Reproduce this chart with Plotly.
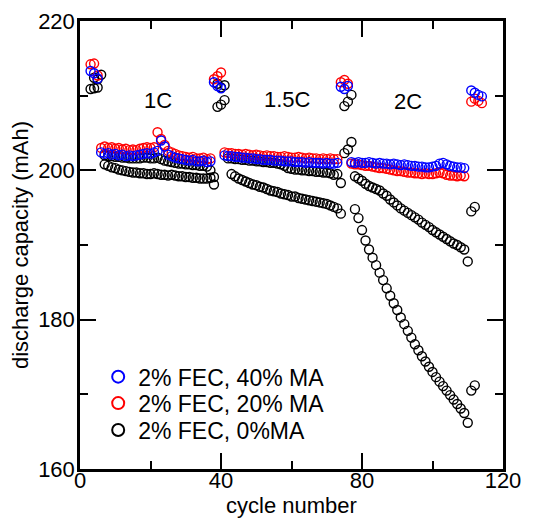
import plotly.graph_objects as go

# Rate-capability cycling: discharge capacity (mAh) per cycle.
# Each series is stored as segments: first cycle of the segment + its values.

# 2% FEC, 40% MA
ma40_start = [3, 6, 38, 41, 74, 77, 111]
ma40_vals = [
    [213.3, 213.0, 212.3],
    [202.4, 202.2, 202.3, 202.1, 202.2, 202.0, 202.1, 201.9, 202.0, 201.9,
     202.0, 202.1, 202.2, 202.3, 202.2, 202.4, 202.6, 204.0, 203.2, 202.1,
     201.9, 201.7, 201.6, 201.5, 201.4, 201.3, 201.4, 201.2, 201.2, 201.3,
     201.1, 201.2],
    [211.8, 211.3, 211.0],
    [202.0, 201.9, 201.9, 201.8, 201.8, 201.7, 201.7, 201.6, 201.6, 201.5,
     201.5, 201.4, 201.4, 201.4, 201.3, 201.3, 201.3, 201.2, 201.2, 201.2,
     201.1, 201.1, 201.1, 201.0, 201.1, 201.0, 201.0, 201.0, 200.9, 201.0,
     200.9, 200.9, 201.0],
    [211.2, 210.9, 211.3],
    [201.1, 201.0, 201.1, 201.0, 201.0, 201.1, 201.0, 200.9, 201.0, 200.9,
     200.9, 200.8, 200.9, 200.8, 200.7, 200.8, 200.7, 200.6, 200.6, 200.5,
     200.5, 200.4, 200.4, 200.5, 200.6, 200.9, 201.0, 200.8, 200.6, 200.5,
     200.4, 200.4, 200.3],
    [210.7, 210.4, 210.1, 209.9],
]

# 2% FEC, 20% MA
ma20_start = [3, 6, 38, 41, 74, 77, 111]
ma20_vals = [
    [214.2, 214.3, 212.7],
    [203.0, 203.2, 203.0, 203.1, 202.9, 203.0, 202.8, 202.9, 202.7, 202.8,
     202.7, 202.9, 203.0, 203.1, 203.0, 203.1, 205.1, 204.2, 203.4, 202.6,
     202.4, 202.2, 202.0, 201.9, 201.8, 201.7, 201.8, 201.6, 201.6, 201.7,
     201.5, 201.6],
    [212.2, 212.6, 213.1],
    [202.4, 202.3, 202.3, 202.2, 202.2, 202.1, 202.2, 202.1, 202.0, 202.1,
     202.0, 201.9, 202.0, 201.9, 201.9, 201.8, 201.8, 201.9, 201.8, 201.7,
     201.7, 201.8, 201.7, 201.6, 201.7, 201.6, 201.6, 201.5, 201.6, 201.5,
     201.6, 201.5, 201.5],
    [211.8, 212.1, 211.6],
    [200.9, 200.8, 200.8, 200.7, 200.6, 200.6, 200.5, 200.4, 200.3, 200.3,
     200.2, 200.1, 200.0, 199.9, 199.9, 199.8, 199.7, 199.7, 199.6, 199.6,
     199.5, 199.6, 199.5, 199.5, 199.6, 199.7, 199.6, 199.4, 199.3, 199.3,
     199.2, 199.3, 199.2],
    [209.2, 209.6, 209.3, 209.0],
]

# 2% FEC, 0% MA (two cells)
ma0_cell1_start = [4, 7, 39, 42, 75, 78, 111]
ma0_cell1_vals = [
    [212.4, 212.2, 212.8],
    [202.0, 201.9, 201.9, 201.8, 201.8, 201.7, 201.7, 201.6, 201.6, 201.6,
     201.6, 201.7, 201.7, 201.6, 201.6, 201.7, 201.5, 201.3, 201.2, 201.1,
     201.0, 200.9, 200.9, 200.8, 200.8, 200.7, 200.7, 200.6, 200.6, 200.5,
     200.0, 199.1],
    [211.6, 211.1, 211.4],
    [201.6, 201.6, 201.5, 201.5, 201.4, 201.4, 201.3, 201.3, 201.2, 201.2,
     201.1, 201.1, 201.0, 201.0, 200.9, 200.8, 200.6, 200.3, 200.2, 200.1,
     200.1, 200.0, 200.0, 199.9, 199.9, 199.8, 199.8, 199.7, 199.7, 199.6,
     199.4, 199.5, 198.3],
    [202.3, 202.8, 203.8],
    [199.2, 198.9, 198.6, 198.2, 197.9, 197.7, 197.5, 197.3, 196.9, 196.6,
     196.1, 195.7, 195.3, 194.9, 194.6, 194.3, 194.0, 193.7, 193.4, 193.0,
     192.7, 192.4, 192.0, 191.7, 191.4, 191.1, 190.8, 190.5, 190.2, 190.0,
     189.7, 189.4, 187.8],
    [194.5, 195.1],
]

ma0_cell2_start = [3, 7, 39, 43, 75, 78, 111]
ma0_cell2_vals = [
    [210.9, 211.0, 211.1],
    [200.8, 200.6, 200.4, 200.3, 200.1, 200.0, 199.9, 199.8, 199.7, 199.7,
     199.6, 199.6, 199.5, 199.5, 199.6, 199.5, 199.4, 199.4, 199.3, 199.4,
     199.3, 199.2, 199.2, 199.1, 199.1, 199.0, 199.0, 198.9, 198.9, 198.9,
     199.0, 198.1],
    [208.5, 208.8, 209.4],
    [199.5, 199.2, 198.9, 198.7, 198.5, 198.3, 198.1, 198.0, 197.8, 197.7,
     197.5, 197.3, 197.2, 197.1, 196.9, 196.8, 196.7, 196.5, 196.5, 196.3,
     196.2, 196.1, 196.0, 195.9, 195.8, 195.7, 195.6, 195.5, 195.3, 195.1,
     194.9, 194.2],
    [208.6, 209.2, 210.1],
    [194.8, 193.6, 192.0, 190.6, 189.4, 188.3, 187.3, 186.3, 185.3, 184.2,
     183.2, 182.2, 181.3, 180.3, 179.4, 178.5, 177.6, 176.7, 175.9, 175.1,
     174.4, 173.7, 173.0, 172.3, 171.7, 171.1, 170.5, 169.9, 169.3, 168.7,
     168.1, 167.5, 166.2],
    [170.5, 171.2],
]

rate_labels = ["1C", "1.5C", "2C"]
rate_label_x = [22, 59, 93]
rate_label_y = [209.4, 209.5, 209.2]

series_names = ["2% FEC, 40% MA", "2% FEC, 20% MA", "2% FEC, 0%MA"]
series_colors = ["#0000ff", "#ff0000", "#000000"]


def flatten(starts, segments):
    xs, ys = [], []
    for s, seg in zip(starts, segments):
        xs.extend(range(s, s + len(seg)))
        ys.extend(seg)
    return xs, ys


FONT = "Liberation Sans, Arial, Helvetica, sans-serif"


def marker(color):
    return dict(symbol="circle-open", size=9, color=color,
                line=dict(width=1.4, color=color))


fig = go.Figure()

# black first so the coloured rings sit on top
x, y = flatten(ma0_cell2_start, ma0_cell2_vals)
fig.add_trace(go.Scatter(x=x, y=y, mode="markers", marker=marker(series_colors[2]),
                         name=series_names[2], legend="legend3", showlegend=True))
x, y = flatten(ma0_cell1_start, ma0_cell1_vals)
fig.add_trace(go.Scatter(x=x, y=y, mode="markers", marker=marker(series_colors[2]),
                         name=series_names[2], legend="legend3", showlegend=False))
x, y = flatten(ma20_start, ma20_vals)
fig.add_trace(go.Scatter(x=x, y=y, mode="markers", marker=marker(series_colors[1]),
                         name=series_names[1], legend="legend2", showlegend=True))
x, y = flatten(ma40_start, ma40_vals)
fig.add_trace(go.Scatter(x=x, y=y, mode="markers", marker=marker(series_colors[0]),
                         name=series_names[0], legend="legend", showlegend=True))

for t, xv, yv in zip(rate_labels, rate_label_x, rate_label_y):
    fig.add_annotation(x=xv, y=yv, text=t, showarrow=False,
                       font=dict(family=FONT, size=22, color="black"))

axis_common = dict(
    showline=True, linewidth=2.5, linecolor="black", mirror="ticks",
    ticks="inside", ticklen=16, tickwidth=2, tickcolor="black",
    showgrid=False, zeroline=False, automargin=False,
    tickfont=dict(family=FONT, size=22, color="black"),
)

fig.update_xaxes(range=[0, 120], tick0=0, dtick=40, ticklabelstandoff=-10,
                 minor=dict(dtick=20, ticks="inside", ticklen=8, tickwidth=2,
                            tickcolor="black", showgrid=False),
                 title=dict(text="cycle number", standoff=0,
                            font=dict(family=FONT, size=22, color="black")),
                 **axis_common)
fig.update_yaxes(range=[160, 220], tick0=160, dtick=20, ticklabelstandoff=-2,
                 minor=dict(dtick=10, ticks="inside", ticklen=8, tickwidth=2,
                            tickcolor="black", showgrid=False),
                 title=dict(text="discharge capacity (mAh)", standoff=4,
                            font=dict(family=FONT, size=22, color="black")),
                 **axis_common)

legend_common = dict(xanchor="left", yanchor="middle", x=0.043,
                     bgcolor="rgba(0,0,0,0)", borderwidth=0,
                     itemsizing="constant", visible=True,
                     font=dict(family=FONT, size=23, color="black"))

fig.update_layout(
    width=553, height=527,
    margin=dict(l=80, r=50, t=21, b=58),
    plot_bgcolor="white", paper_bgcolor="white",
    font=dict(family=FONT, size=22, color="black"),
    showlegend=True,
    legend=dict(y=0.206, **legend_common),
    legend2=dict(y=0.147, **legend_common),
    legend3=dict(y=0.087, **legend_common),
)

fig.write_html("out.html")
